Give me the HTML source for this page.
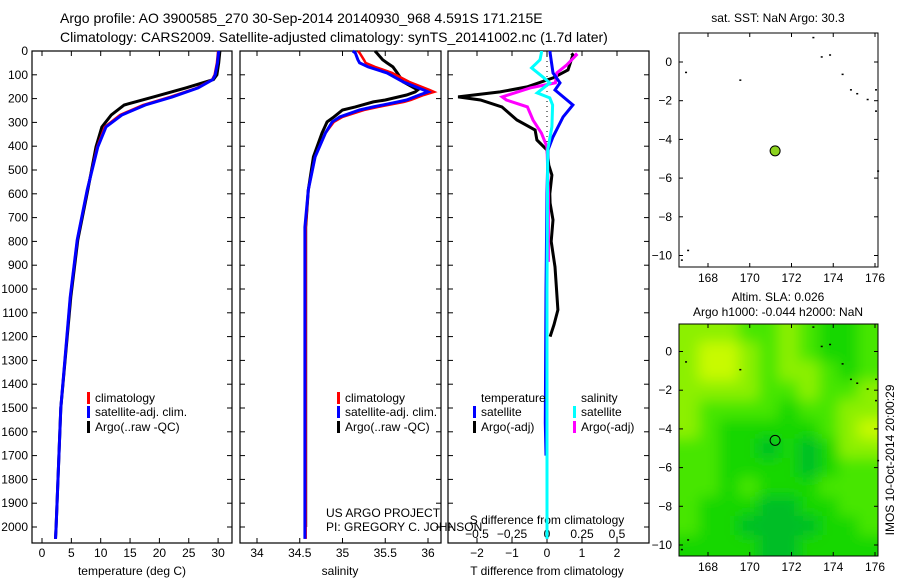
<!DOCTYPE html>
<html><head><meta charset="utf-8"><style>
body{margin:0;background:#fff;}
svg text{font-family:"Liberation Sans",sans-serif;font-size:12px;fill:#000;}
</style></head><body>
<svg id="c" width="900" height="580" xmlns="http://www.w3.org/2000/svg">
<defs>
<filter id="bl" x="-5%" y="-5%" width="110%" height="110%"><feGaussianBlur stdDeviation="7"/></filter>
<clipPath id="mapclip"><rect x="679" y="324" width="199" height="232"/></clipPath>
</defs>
</svg>
<script>
// ---- data ----
const tDepth=[0,50,100,120,155,193,227,269,319,403,584,794,1034,1500,2000,2050];
const tClim=[30,29.8,29.4,29,26.4,21.8,17.2,13.3,10.7,9.4,7.7,6,4.8,3.2,2.4,2.3];
const tSat=[30.1,29.9,29.5,29.1,26.6,22.2,17.6,13.6,10.9,9.5,7.7,6,4.8,3.2,2.4,2.3];
const tArgo=[30.3,30.1,29.8,29.2,24.5,19,14,11.8,10.2,9.2,7.8,6.1,4.9,3.2,2.4,2.3];
const sDepth=[0,8,37,50,67,92,130,164,172,185,206,214,235,248,277,298,345,445,584,740,1000,2000,2050];
const sClim=[35.18,35.2,35.25,35.27,35.38,35.58,35.78,36.02,36.07,35.95,35.8,35.72,35.42,35.25,35.0,34.9,34.8,34.68,34.6,34.57,34.57,34.57,34.57];
const sSat=[35.12,35.15,35.18,35.2,35.3,35.52,35.71,35.95,36.0,35.9,35.75,35.65,35.36,35.2,34.97,34.88,34.8,34.68,34.6,34.56,34.56,34.56,34.56];
const sArgo=[35.38,35.4,35.47,35.52,35.59,35.64,35.71,35.88,35.85,35.75,35.5,35.36,35.15,35.0,34.9,34.82,34.76,34.66,34.6,34.57,34.57,34.57];
const dtArgoDepth=[10,17,80,113,151,172,193,206,235,290,332,374,416,480,521,600,639,710,800,907,1000,1088,1150,1200];
const dtArgo=[0.7,0.74,0.6,0.17,-0.57,-1.34,-2.54,-1.9,-1.29,-0.86,-0.34,-0.29,0,0.05,0.14,0.08,0.09,0.17,0.12,0.23,0.27,0.31,0.2,0.09];
const dtSatDepth=[0,8,92,134,164,227,277,361,416,600,1000,1563,1700];
const dtSat=[0.09,0.09,0.17,0.37,0.23,0.74,0.46,0.17,0.03,0,-0.03,-0.05,-0.03];
const dsArgoDepth=[10,17,59,92,134,155,193,206,235,290,345,403,600,886];
const dsArgo=[0.2,0.21,0.14,0.07,0.06,-0.12,-0.32,-0.29,-0.14,-0.1,-0.04,0,0.01,0.01];
const dsSatDepth=[0,8,37,71,109,134,176,197,227,319,416,1000,2050];
const dsSat=[-0.04,-0.04,-0.05,-0.11,-0.03,0.02,-0.07,0.02,0.04,0.035,0.005,0,0];
const floatLon=171.215, floatLat=-4.591;
const slaGrid=[
[3,3,3,2,2,3,2,1,1,2],
[3,4,4,3,2,3,2,1,1,2],
[3,4,4,3,2,3,3,2,1,2],
[3,3,3,3,2,2,3,2,2,3],
[3,2,2,2,2,1,2,2,3,3],
[3,2,1,1,1,1,1,2,3,4],
[2,2,1,1,0,1,0,1,3,3],
[2,2,1,1,1,1,0,1,2,2],
[2,2,1,2,1,1,1,2,2,2],
[2,1,1,1,0,0,1,1,2,2],
[2,1,1,0,0,0,0,1,1,2],
[1,1,1,1,0,0,1,1,1,1]];
const coast=[[166.9,-0.5],[169.5,-0.9],[173,1.3],[173.4,0.3],[173.8,0.4],[174.4,-0.6],[174.8,-1.4],[175.1,-1.6],[175.6,-1.9],[176.0,-1.4],[176.0,-2.5],[176.1,-5.6],[167,-9.7],[166.7,-10.2]];

// ---- helpers ----
const svg=document.getElementById('c');
const NS='http://www.w3.org/2000/svg';
function mk(tag,attrs,parent){const e=document.createElementNS(NS,tag);for(const k in attrs)e.setAttribute(k,attrs[k]);(parent||svg).appendChild(e);return e;}
function txt(x,y,s,anchor,size){const t=mk('text',{x:x,y:y,'text-anchor':anchor||'start'});if(size)t.style.fontSize=size+'px';t.textContent=s;return t;}
const Y=d=>51+d*0.238;
const xT=t=>42+t*5.87;
const xS=s=>257+(s-34)*85.5;
const xDT=v=>547+v*35;
const xDS=v=>547+v*140;
function line(xs,ys,fx,color,w,name){
  const pts=xs.map((v,i)=>fx(v).toFixed(1)+','+Y(ys[i]).toFixed(1)).join(' ');
  const p=mk('polyline',{points:pts,fill:'none',stroke:color,'stroke-width':w});
  
  
}
function frame(x0,x1,name){
  const r=mk('rect',{x:x0,y:51,width:x1-x0,height:492,fill:'none',stroke:'#000','stroke-width':1.2});
  
  
}

let t=txt(60,23,'Argo profile: AO 3900585_270 30-Sep-2014 20140930_968 4.591S 171.215E',null,14);


t=txt(60,42,'Climatology: CARS2009. Satellite-adjusted climatology: synTS_20141002.nc (1.7d later)',null,14);



frame(32,232,'temperature-panel');
frame(240,441,'salinity-panel');
frame(448,649,'difference-panel');
for(let d=0;d<=2000;d+=100){
  const y=Y(d);
  t=txt(28,y+4,String(d),'end');
  
  
  [[32,1],[232,-1],[240,1],[441,-1],[448,1],[649,-1]].forEach(([x,s])=>mk('line',{x1:x,x2:x+5*s,y1:y,y2:y,stroke:'#000'}));
}
function xticks(vals,fx,labels,ly,top){
  vals.forEach((v,i)=>{const x=fx(v);
    mk('line',{x1:x,x2:x,y1:543,y2:538,stroke:'#000'});
    if(top)mk('line',{x1:x,x2:x,y1:51,y2:56,stroke:'#000'});
    t=txt(x,ly,labels[i],'middle');
    
    });
}
xticks([0,5,10,15,20,25,30],xT,['0','5','10','15','20','25','30'],557,true);
xticks([34,34.5,35,35.5,36],xS,['34','34.5','35','35.5','36'],557,true);
xticks([-2,-1,0,1,2],xDT,['−2','−1','0','1','2'],557,true);
[-0.5,-0.25,0,0.25,0.5].forEach((v,i)=>{t=txt(xDS(v),538,['−0.5','−0.25','0','0.25','0.5'][i],'middle');
  
  });
t=txt(132,575,'temperature (deg C)','middle');
t=txt(340,575,'salinity','middle');
t=txt(547,575,'T difference from climatology','middle');
t=txt(547,524,'S difference from climatology','middle');

line(tArgo,tDepth,xT,'#000',3,'temp-argo-line');
line(tClim,tDepth,xT,'#f00',2.5,'temp-climatology-line');
line(tSat,tDepth,xT,'#00f',3,'temp-satellite-line');
line(sArgo,sDepth.slice(0,sArgo.length),xS,'#000',3,'sal-argo-line');
line(sClim,sDepth,xS,'#f00',2.5,'sal-climatology-line');
line(sSat,sDepth,xS,'#00f',3,'sal-satellite-line');
mk('line',{x1:547,x2:547,y1:51,y2:543,stroke:'#000','stroke-dasharray':'1,4'});
line(dtArgo,dtArgoDepth,xDT,'#000',3,'t-diff-argo-line');
line(dsArgo,dsArgoDepth,xDS,'#f0f',3,'s-diff-argo-line');
line(dtSat,dtSatDepth,xDT,'#00f',3,'t-diff-satellite-line');
line(dsSat,dsSatDepth,xDS,'#0ff',3,'s-diff-satellite-line');

function leg(x,y,color,label){mk('rect',{x:x,y:y-10,width:3,height:12,fill:color});
  t=txt(x+8,y,label);}
leg(87,402,'#f00','climatology');leg(87,416,'#00f','satellite-adj. clim.');leg(87,431,'#000','Argo(..raw -QC)');
leg(337,402,'#f00','climatology');leg(337,416,'#00f','satellite-adj. clim.');leg(337,431,'#000','Argo(..raw -QC)');
t=txt(481,402,'temperature');
t=txt(581,402,'salinity');
leg(473,416,'#00f','satellite');leg(473,431,'#000','Argo(-adj)');
leg(573,416,'#0ff','satellite');leg(573,431,'#f0f','Argo(-adj)');
t=txt(326,517,'US ARGO PROJECT');
t=txt(326,531,'PI: GREGORY C. JOHNSON');

const mx=lon=>708+(lon-168)*20.875;
function drawMap(y0,y1,lat0y,name,heat){
  const my=lat=>lat0y-lat*19.35;
  if(heat){
    const cols=['#00be28','#14d700','#46e600','#8cf000','#c8fa00'];
    const clip=mk('g',{'clip-path':'url(#mapclip)'});
    mk('rect',{x:679,y:y0,width:199,height:y1-y0,fill:cols[2]},clip);
    const g=mk('g',{filter:'url(#bl)'},clip);
    const nc=slaGrid[0].length,lw=(176.15-166.6)/nc;
    slaGrid.forEach((row,r)=>row.forEach((v,c)=>{
      let xa=mx(166.6+c*lw),ya=my(1.5-r),w=lw*20.875+0.5,h=19.85;
      if(c===0){xa-=15;w+=15;} if(c===nc-1)w+=15;
      if(r===0){ya-=15;h+=15;} if(r===slaGrid.length-1)h+=15;
      const cell=mk('rect',{x:xa,y:ya,width:w,height:h,fill:cols[v]},g);
      
      
    }));
  }
  const f=mk('rect',{x:679,y:y0,width:199,height:y1-y0,fill:'none',stroke:'#000'});
  
  
  [0,-2,-4,-6,-8,-10].forEach(l=>{const y=my(l);mk('line',{x1:679,x2:683,y1:y,y2:y,stroke:'#000'});mk('line',{x1:878,x2:874,y1:y,y2:y,stroke:'#000'});
    t=txt(672,y+4,l===0?'0':'−'+(-l),'end');});
  [168,170,172,174,176].forEach(l=>{const x=mx(l);mk('line',{x1:x,x2:x,y1:y1,y2:y1-4,stroke:'#000'});mk('line',{x1:x,x2:x,y1:y0,y2:y0+4,stroke:'#000'});
    t=txt(x,y1+15,String(l),'middle');});
  coast.forEach(([lo,la])=>{const s=mk('rect',{x:mx(lo),y:my(la),width:2,height:1.5,fill:'#000'});
    });
  const c=mk('circle',{cx:mx(floatLon),cy:my(floatLat),r:5,fill:heat?'none':'#8cd21e',stroke:'#000'});
  
  
}
drawMap(33,267,62,'sst-map',false);
drawMap(324,556,351.5,'sla-map',true);
t=txt(778,22,'sat. SST: NaN  Argo: 30.3','middle');
t=txt(778,301,'Altim. SLA: 0.026','middle');
t=txt(778,316,'Argo h1000: -0.044 h2000: NaN','middle');
t=txt(0,0,'IMOS 10-Oct-2014 20:00:29','middle');
t.setAttribute('transform','translate(894,460) rotate(-90)');


</script>
</body></html>
